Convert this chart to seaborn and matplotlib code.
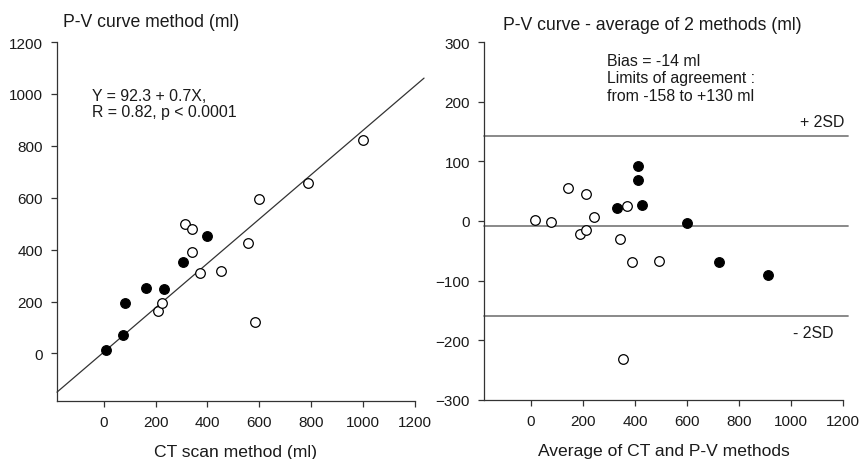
import matplotlib
matplotlib.use("Agg")
import matplotlib.pyplot as plt
import seaborn as sns
import pandas as pd
import numpy as np

# ---- data ----
ct_filled = [10, 73, 82, 162, 233, 307, 400]
pv_filled = [13, 72, 195, 253, 247, 351, 454]
ct_open = [208, 225, 315, 342, 340, 372, 451, 557, 597, 583, 788, 1001]
pv_open = [163, 194, 499, 480, 392, 310, 317, 426, 596, 122, 656, 823]

avg_filled = [410, 413, 428, 333, 599, 724, 913]
diff_filled = [92, 68, 26, 21, -3, -68, -90]
avg_open = [15, 77, 141, 212, 244, 188, 213, 369, 342, 387, 494, 354]
diff_open = [1, -1, 56, 45, 7, -22, -15, 25, -30, -69, -67, -232]

line_intercept = 5.0
line_slope = 0.855
line_x_range = [-180, 1235]

bias_line = -8
upper_line = 142
lower_line = -160
hline_x_range = [-180, 1220]

xticks = [0, 200, 400, 600, 800, 1000, 1200]
yticks_left = [0, 200, 400, 600, 800, 1000, 1200]
yticks_right = [-300, -200, -100, 0, 100, 200, 300]

sns.set_style("ticks")
plt.rcParams['font.family'] = ['Liberation Sans', 'DejaVu Sans']
TXT = '#1a1a1a'
plt.rcParams['text.color'] = TXT
plt.rcParams['axes.labelcolor'] = TXT
plt.rcParams['xtick.color'] = '#333333'
plt.rcParams['ytick.color'] = '#333333'
plt.rcParams['xtick.labelcolor'] = TXT
plt.rcParams['ytick.labelcolor'] = TXT

fig = plt.figure(figsize=(8.62, 4.60), dpi=100)
ax1 = fig.add_axes([0.0661, 0.1261, 0.4153, 0.7804])
ax2 = fig.add_axes([0.5615, 0.1283, 0.4165, 0.7782])

df_f = pd.DataFrame({'x': ct_filled, 'y': pv_filled})
df_o = pd.DataFrame({'x': ct_open, 'y': pv_open})
df2_f = pd.DataFrame({'x': avg_filled, 'y': diff_filled})
df2_o = pd.DataFrame({'x': avg_open, 'y': diff_open})

FS_TICK = 11
FS_TXT = 11.4
FS_TITLE = 12.7
FS_LABEL = 12.6
ms = 48

# left panel
lx = np.array(line_x_range, dtype=float)
ax1.plot(lx, line_intercept + line_slope * lx, color='#333333', lw=0.9, clip_on=False, zorder=1)
sns.scatterplot(data=df_o, x='x', y='y', ax=ax1, s=ms, facecolor='white', edgecolor='black',
                linewidth=0.9, zorder=3)
sns.scatterplot(data=df_f, x='x', y='y', ax=ax1, s=ms, color='black', edgecolor='black',
                linewidth=0.9, zorder=3)
ax1.set_xlim(-180, 1200)
ax1.set_ylim(-183, 1200)
ax1.set_xticks(xticks)
ax1.set_yticks(yticks_left)
ax1.set_xlabel('CT scan method (ml)', fontsize=FS_LABEL, labelpad=11)
ax1.set_ylabel('')
ax1.text(0.017, 1.058, 'P-V curve method (ml)', transform=ax1.transAxes, fontsize=FS_TITLE,
         ha='left', va='center')
ax1.text(-46, 1022, 'Y = 92.3 + 0.7X,\nR = 0.82, p < 0.0001', fontsize=FS_TXT, ha='left', va='top',
         linespacing=1.05)

# right panel
hx = hline_x_range
for yv in (upper_line, bias_line, lower_line):
    ax2.plot(hx, [yv, yv], color='#808080', lw=1.3, clip_on=False, zorder=1)
sns.scatterplot(data=df2_o, x='x', y='y', ax=ax2, s=ms, facecolor='white', edgecolor='black',
                linewidth=0.9, zorder=3)
sns.scatterplot(data=df2_f, x='x', y='y', ax=ax2, s=ms, color='black', edgecolor='black',
                linewidth=0.9, zorder=3)
ax2.set_xlim(-180, 1200)
ax2.set_ylim(-300, 300)
ax2.set_xticks(xticks)
ax2.set_yticks(yticks_right)
ax2.set_xlabel('Average of CT and P-V methods', fontsize=FS_LABEL, labelpad=11)
ax2.set_ylabel('')
ax2.text(0.053, 1.05, 'P-V curve - average of 2 methods (ml)', transform=ax2.transAxes,
         fontsize=FS_TITLE, ha='left', va='center')
ax2.text(292, 282, 'Bias = -14 ml\nLimits of agreement :\nfrom -158 to +130 ml', fontsize=FS_TXT,
         ha='left', va='top', linespacing=1.22)
ax2.text(1205, 167, '+ 2SD', fontsize=FS_TXT, ha='right', va='center')
ax2.text(1164, -187, '- 2SD', fontsize=FS_TXT, ha='right', va='center')

for ax in (ax1, ax2):
    sns.despine(ax=ax)
    for sp in ('left', 'bottom'):
        ax.spines[sp].set_color('#333333')
        ax.spines[sp].set_linewidth(0.9)
    ax.tick_params(direction='out', length=4, width=0.9, labelsize=FS_TICK, pad=6)

fig.savefig('out.png', dpi=100)
